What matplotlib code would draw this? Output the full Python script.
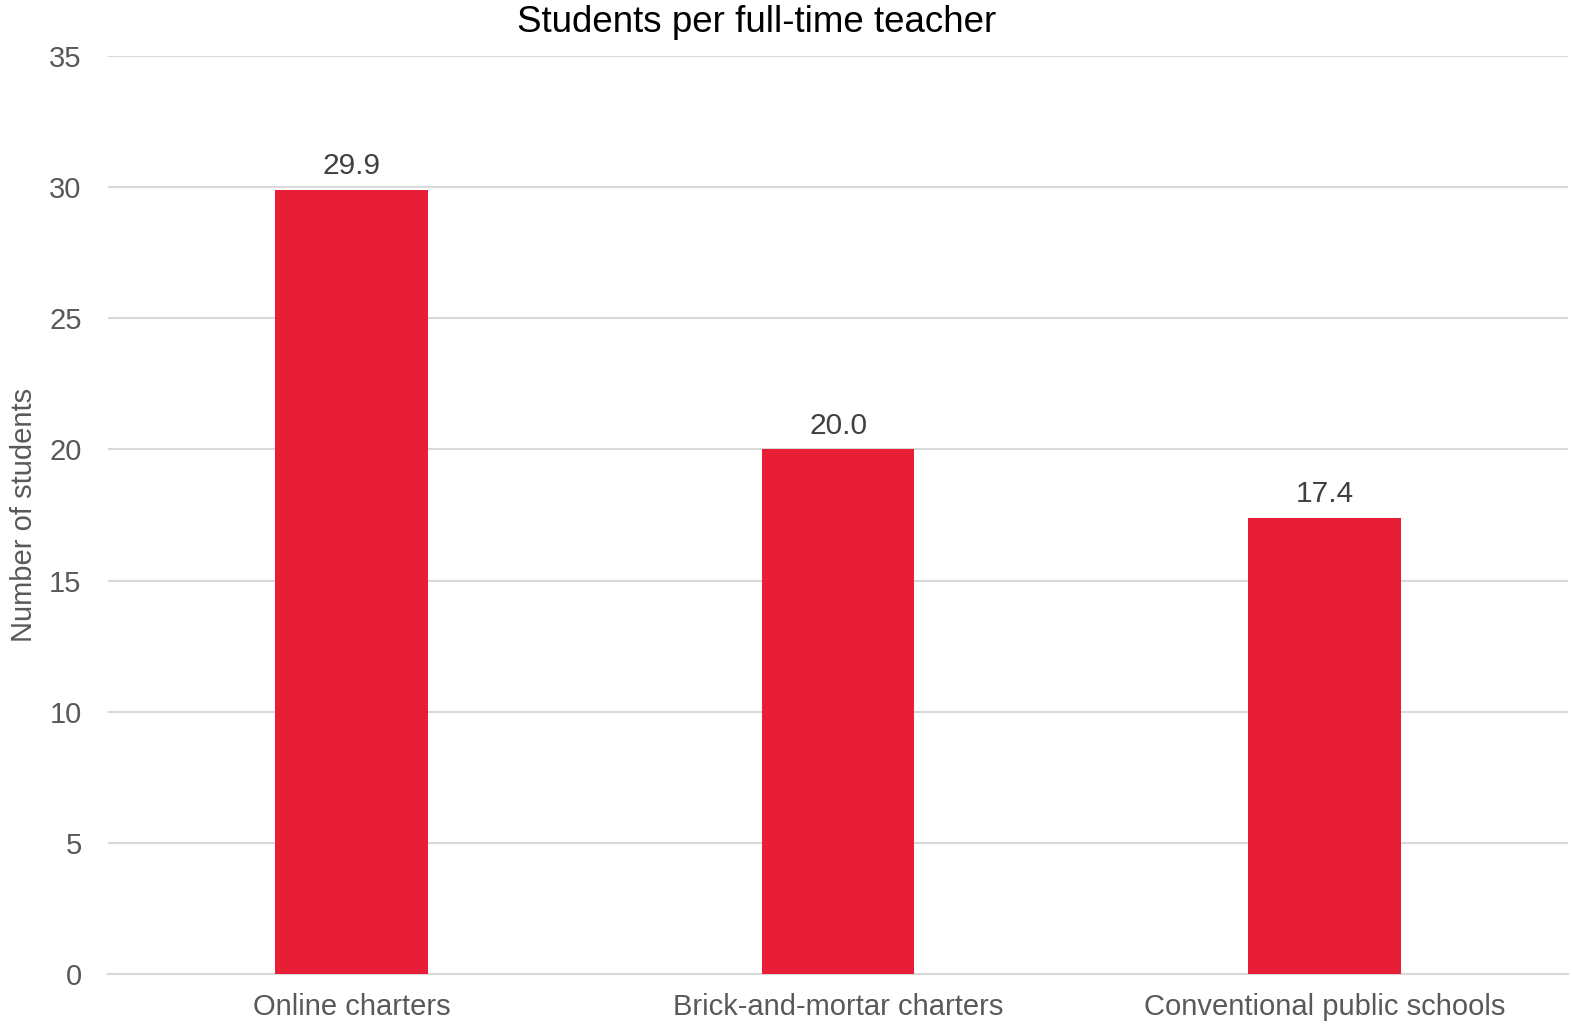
import matplotlib.pyplot as plt

plt.rcParams['font.family'] = ['Liberation Sans', 'DejaVu Sans']

categories = ['Online charters', 'Brick-and-mortar charters', 'Conventional public schools']
values = [29.9, 20.0, 17.4]
labels = ['29.9', '20.0', '17.4']
yticks = [0, 5, 10, 15, 20, 25, 30, 35]

fig = plt.figure(figsize=(15.72, 10.28), dpi=100)
ax = fig.add_axes([0.0687, 0.0525, 0.9288, 0.893])

x = range(len(categories))
bars = ax.bar(x, values, width=0.314, color='#E81E36', zorder=3)

for bar, lab in zip(bars, labels):
    ax.annotate(lab, (bar.get_x() + bar.get_width() / 2, bar.get_height()),
                xytext=(0, 7), textcoords='offset points',
                ha='center', va='bottom', fontsize=21.5, color='#404040')

ax.set_xlim(-0.5, 2.5)
ax.set_ylim(0, 35)
ax.set_yticks(yticks)
ax.set_xticks(list(x))
ax.set_xticklabels(categories)
ax.tick_params(axis='both', length=0, labelsize=21, labelcolor='#595959')
ax.tick_params(axis='x', pad=14)
ax.tick_params(axis='y', pad=19)
ax.grid(axis='y', color='#D9D9D9', linewidth=1.5, zorder=0)
for s in ['top', 'right', 'left']:
    ax.spines[s].set_visible(False)
ax.spines['bottom'].set_color('#D9D9D9')
ax.spines['bottom'].set_linewidth(1.5)

ax.set_ylabel('Number of students', fontsize=21, color='#595959', labelpad=8)
fig.text(0.481, 0.978, 'Students per full-time teacher', ha='center', va='center',
         fontsize=26.5, color='black')

fig.savefig('out.png', dpi=100)
